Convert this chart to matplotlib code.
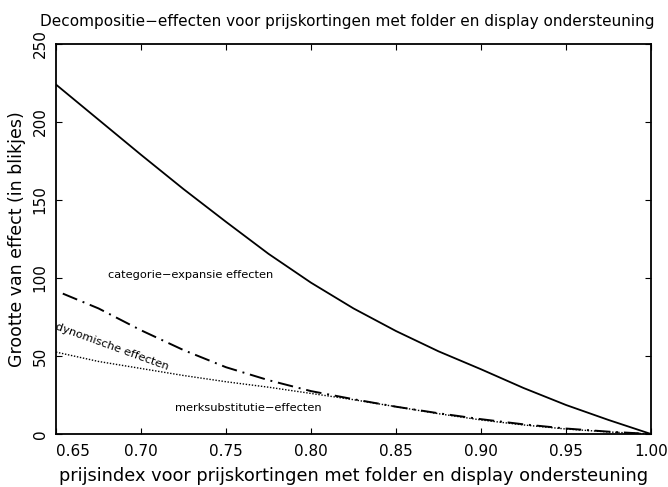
import matplotlib
matplotlib.use('Agg')
import matplotlib.pyplot as plt

# prijsindex values and effects (in blikjes)
x_cat = [0.65, 0.675, 0.70, 0.725, 0.75, 0.775, 0.80, 0.825, 0.85, 0.875, 0.90, 0.925, 0.95, 0.975, 1.00]
cat_effect = [224, 201.5, 179, 157, 136, 115.5, 97, 80.5, 66, 53, 41.5, 29.5, 18.6, 9, 0]

x_dyn = [0.654, 0.675, 0.70, 0.725, 0.75, 0.775, 0.80, 0.825, 0.85, 0.875, 0.90, 0.925, 0.95, 0.975, 1.00]
dyn_effect = [90, 80.5, 66.5, 53.8, 42.8, 34.5, 27.5, 22.3, 17.5, 13.3, 9.5, 6.2, 3.5, 1.5, 0]

x_merk = [0.65, 0.675, 0.70, 0.725, 0.75, 0.775, 0.80, 0.825, 0.85, 0.875, 0.90, 0.925, 0.95, 0.975, 1.00]
merk_effect = [52.5, 46.5, 42, 37.5, 33.5, 30, 26, 22, 17.5, 13, 9, 5.8, 3.2, 1.3, 0]

xticks = [0.65, 0.70, 0.75, 0.80, 0.85, 0.90, 0.95, 1.00]
yticks = [0, 50, 100, 150, 200, 250]

plt.rcParams['font.family'] = 'DejaVu Sans'

fig = plt.figure(figsize=(6.68, 4.87), dpi=100)
ax = fig.add_axes([56 / 668, 53 / 487, 595 / 668, 390 / 487])

ax.plot(x_cat, cat_effect, color='black', lw=1.3, linestyle='-')
ax.plot(x_dyn, dyn_effect, color='black', lw=1.4, linestyle=(0, (8, 3, 1, 3)))
ax.plot(x_merk, merk_effect, color='black', lw=1.0, linestyle=(0, (1, 1.2)))

ax.set_xlim(0.65, 1.00)
ax.set_ylim(0, 250)
ax.set_xticks(xticks)
ax.set_yticks(yticks)
ax.set_xticklabels(['%.2f' % v for v in xticks])
ax.set_yticklabels([str(v) for v in yticks], rotation=90, va='center')
ax.get_xticklabels()[0].set_horizontalalignment('left')

ax.tick_params(direction='in', length=4, width=0.8, top=True, right=True,
               labelsize=11, pad=7)
ax.tick_params(axis='y', pad=6)
for s in ax.spines.values():
    s.set_linewidth(1.3)

ax.set_title('Decompositie\u2212effecten voor prijskortingen met folder en display ondersteuning',
             fontsize=11, pad=13, x=0.49)
ax.set_xlabel('prijsindex voor prijskortingen met folder en display ondersteuning',
              fontsize=12.8, labelpad=6)
ax.set_ylabel('Grootte van effect (in blikjes)', fontsize=12.5, labelpad=5)

ax.text(0.6806, 102, 'categorie\u2212expansie effecten', fontsize=8.2, va='center', ha='left')
ax.text(0.651, 72, 'dynomische effecten', fontsize=8.2, va='top', ha='left', rotation=-20,
        rotation_mode='anchor')
ax.text(0.72, 16.7, 'merksubstitutie\u2212effecten', fontsize=8.2, va='center', ha='left')

fig.savefig('out.png', dpi=100)
